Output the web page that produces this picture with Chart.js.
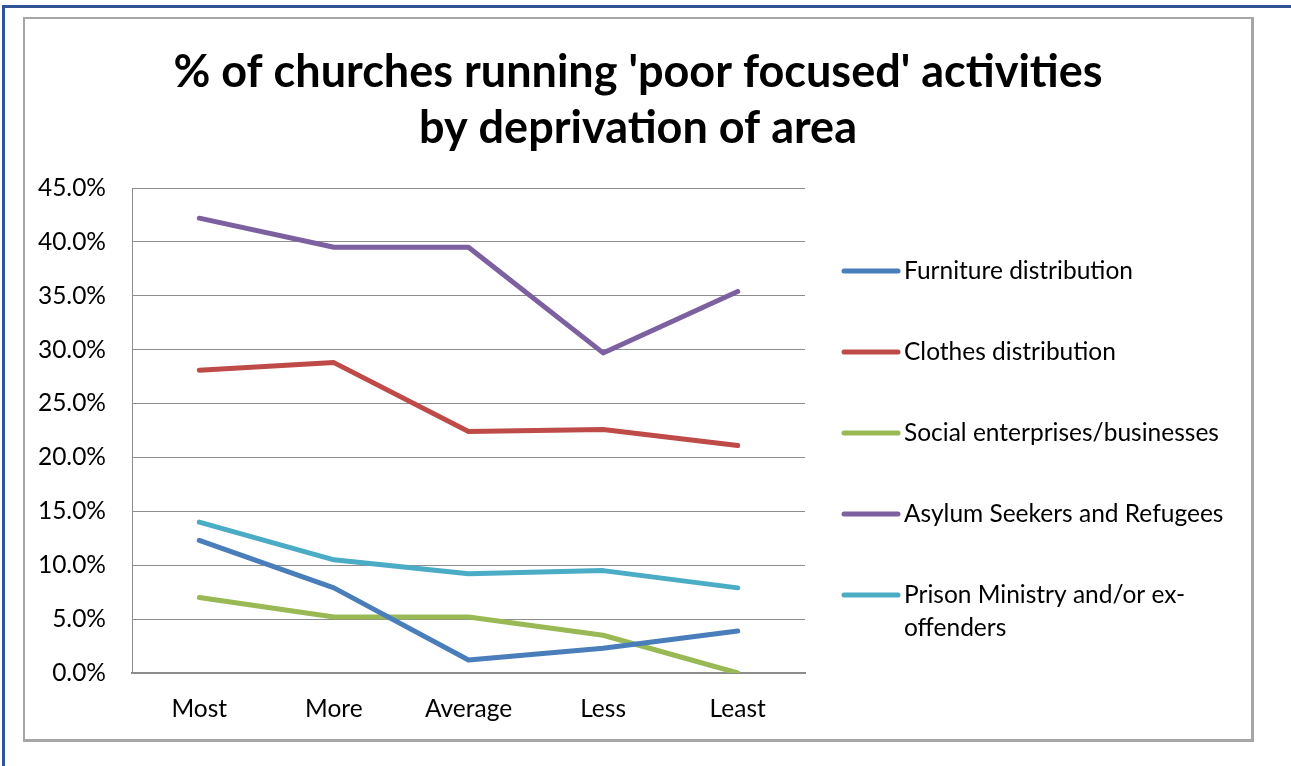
<!DOCTYPE html>
<html>
<head>
<meta charset="utf-8">
<script src="https://cdn.jsdelivr.net/npm/chart.js@4"></script>
<style>
  html, body { margin: 0; padding: 0; background: #fff; }
  body { width: 1291px; height: 766px; position: relative; overflow: hidden; }
  .frame {
    position: absolute; left: 2px; top: 5px; right: 0; bottom: 0;
    border-top: 3px solid #2f5597; border-left: 3px solid #2f5597;
  }
  .box {
    position: absolute; left: 23px; top: 17px; width: 1226px; height: 720px;
    border: 2px solid #a6a6a6; border-right-width: 3px; border-bottom-width: 3px;
    background: #fff;
  }
  canvas { display: block; }
</style>
</head>
<body>
<div class="frame"></div>
<div class="box"><canvas id="chart" width="1226" height="720"></canvas></div>
<script>
/* ===== % of churches running 'poor focused' activities ===== */

const TITLE_LINES = ["% of churches running 'poor focused' activities", 'by deprivation of area'];

const CATEGORIES = ['Most', 'More', 'Average', 'Less', 'Least'];

const FURNITURE = [12.3, 7.9, 1.2, 2.3, 3.9];
const CLOTHES   = [28.1, 28.8, 22.4, 22.6, 21.1];
const SOCIAL    = [7.0, 5.2, 5.2, 3.5, 0.0];
const ASYLUM    = [42.2, 39.5, 39.5, 29.7, 35.4];
const PRISON    = [14.0, 10.5, 9.2, 9.5, 7.9];

const SERIES_LABELS = [
  'Furniture distribution',
  'Clothes distribution',
  'Social enterprises/businesses',
  'Asylum Seekers and Refugees',
  ['Prison Ministry and/or ex-', 'offenders'],
];
const SERIES_COLORS = ['#4a7ebb', '#be4b48', '#98b954', '#7d60a0', '#4bacc6'];

const Y_MIN = 0;
const Y_MAX = 45;
const Y_STEP = 5;

const FONT = 'Lato, "Open Sans", sans-serif';
const GRID = '#8c8c8c';
const LABEL_SIZE = 24.5;

const seriesData = [FURNITURE, CLOTHES, SOCIAL, ASYLUM, PRISON];

const datasets = seriesData.map((d, i) => ({
  label: Array.isArray(SERIES_LABELS[i]) ? SERIES_LABELS[i].join(' ') : SERIES_LABELS[i],
  data: d,
  borderColor: SERIES_COLORS[i],
  backgroundColor: SERIES_COLORS[i],
  borderWidth: 5,
  pointRadius: 0,
  tension: 0,
  borderCapStyle: 'round',
  borderJoinStyle: 'round',
}));

// title centred on the whole box, not just the plot
const boxTitle = {
  id: 'boxTitle',
  afterDraw(chart) {
    const { ctx, width } = chart;
    ctx.save();
    ctx.font = 'bold 45px ' + FONT;
    ctx.fillStyle = '#000';
    ctx.textAlign = 'center';
    ctx.textBaseline = 'middle';
    TITLE_LINES.forEach((t, i) => ctx.fillText(t, width / 2, 53 + i * 56));
    ctx.restore();
  },
};

// legend on the right, with wrapped text like the original
const sideLegend = {
  id: 'sideLegend',
  afterDraw(chart) {
    const { ctx, chartArea } = chart;
    const x0 = chartArea.right + 39;
    const lineLen = 54;
    const textX = x0 + lineLen + 6;
    const top = chartArea.top + 83;
    const gap = 81;
    ctx.save();
    ctx.font = LABEL_SIZE + 'px ' + FONT;
    ctx.textBaseline = 'middle';
    SERIES_LABELS.forEach((lab, i) => {
      const y = top + i * gap;
      ctx.strokeStyle = SERIES_COLORS[i];
      ctx.lineWidth = 5;
      ctx.lineCap = 'round';
      ctx.beginPath();
      ctx.moveTo(x0, y);
      ctx.lineTo(x0 + lineLen, y);
      ctx.stroke();
      ctx.fillStyle = '#000';
      const lines = Array.isArray(lab) ? lab : [lab];
      lines.forEach((t, j) => ctx.fillText(t, textX, y + j * 33));
    });
    ctx.restore();
  },
};

new Chart(document.getElementById('chart'), {
  type: 'line',
  data: { labels: CATEGORIES, datasets },
  options: {
    responsive: false,
    animation: false,
    layout: { padding: { left: 0, right: 446, top: 169, bottom: 0 } },
    plugins: {
      legend: { display: false },
      tooltip: { enabled: false },
      title: { display: false },
    },
    scales: {
      x: {
        offset: true,
        grid: { display: false, drawTicks: false },
        border: { display: true, color: GRID, width: 2 },
        ticks: { color: '#000', font: { family: FONT, size: LABEL_SIZE }, padding: 21 },
        afterFit(scale) { scale.height = 66; },
      },
      y: {
        min: Y_MIN,
        max: Y_MAX,
        grid: { color: GRID, lineWidth: 1, drawTicks: false },
        border: { display: true, color: GRID, width: 1 },
        ticks: {
          stepSize: Y_STEP,
          color: '#000',
          font: { family: FONT, size: LABEL_SIZE },
          padding: 26,
          callback: v => v.toFixed(1) + '%',
        },
        afterFit(scale) { scale.width = 107; },
      },
    },
  },
  plugins: [boxTitle, sideLegend],
});
</script>
</body>
</html>
